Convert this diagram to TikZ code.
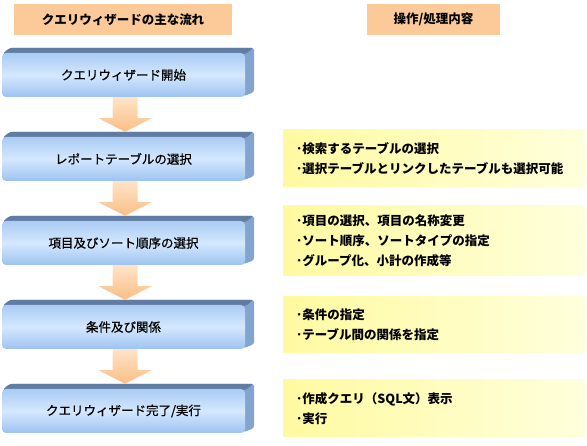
\documentclass[tikz,border=0pt]{standalone}
\usepackage{fontspec}
\newfontfamily\jpfont{Noto Sans CJK JP}
\newfontfamily\jpmed[FakeBold=0.8]{Noto Sans CJK JP}
\usetikzlibrary{positioning,calc,backgrounds}
\definecolor{hdrO}{RGB}{252,202,152}
\definecolor{faceT}{RGB}{170,203,242}
\definecolor{faceM}{RGB}{212,232,255}
\definecolor{faceB}{RGB}{158,195,240}
\definecolor{bevT}{RGB}{96,124,162}
\definecolor{bevS}{RGB}{132,164,208}
\definecolor{arrT}{RGB}{255,228,200}
\definecolor{arrB}{RGB}{250,190,132}
\definecolor{noteL}{RGB}{255,250,160}
\definecolor{noteR}{RGB}{255,255,220}
\begin{document}
\begin{tikzpicture}[
  x=1pt, y=-1pt,
  hdr/.style={fill=hdrO, minimum height=31pt, inner sep=0pt, font=\jpfont\bfseries\fontsize{12.5}{14}\selectfont},
  stepbox/.style={rounded corners=4pt, top color=faceT, bottom color=faceB, middle color=faceM, minimum width=243pt, minimum height=44pt, inner sep=0pt, font=\jpmed\fontsize{12.5}{14}\selectfont},
  note/.style={anchor=west, left color=noteL, right color=noteR, text width=276pt, inner xsep=13pt, inner ysep=0pt, align=left, font=\jpfont\bfseries\fontsize{12.5}{20}\selectfont},
  bevel/.style={fill=bevS, rounded corners=3pt},
  bevtop/.style={fill=bevT, rounded corners=2pt},
  flow/.style={top color=arrT, bottom color=arrB}
]
\useasboundingbox (0,0) rectangle (587,446);
% headers
\node[hdr, minimum width=218pt] (hflow) at (123,19.5) {クエリウィザードの主な流れ};
\node[hdr, minimum width=133pt] (hop) at (433.5,19.5) {操作/処理内容};
% steps
\node[stepbox] (s1) at (123.5,75) {クエリウィザード開始};
\node[stepbox] (s2) at (123.5,159) {レポートテーブルの選択};
\node[stepbox] (s3) at (123.5,243) {項目及びソート順序の選択};
\node[stepbox] (s4) at (123.5,327) {条件及び関係};
\node[stepbox] (s5) at (123.5,411) {クエリウィザード完了/実行};
% notes
\node[note, minimum height=57pt] (n2) at (283,158.5) {･検索するテーブルの選択\\･選択テーブルとリンクしたテーブルも選択可能};
\node[note, minimum height=70pt] (n3) at (283,240.5) {･項目の選択、項目の名称変更\\･ソート順序、ソートタイプの指定\\･グループ化、小計の作成等};
\node[note, minimum height=56pt] (n4) at (283,325) {･条件の指定\\･テーブル間の関係を指定};
\node[note, minimum height=57pt] (n5) at (283,408.5) {･作成クエリ（SQL文）表示\\･実行};
% bevels
\begin{scope}[on background layer]
\foreach \s in {s1,s2,s3,s4,s5}{
  \fill[bevel] ($(\s.north west)+(1,1)$) -- ($(\s.north west)+(8,-5)$) -- ($(\s.north east)+(9,-5)$)
    -- ($(\s.south east)+(9,-5)$) -- ($(\s.south east)+(-2,-1)$) -- cycle;
  \fill[bevtop] ($(\s.north west)+(1,1)$) -- ($(\s.north west)+(8,-5)$) -- ($(\s.north east)+(8,-5)$)
    -- ($(\s.north east)+(1,1)$) -- cycle;
}
\end{scope}
% arrows
\foreach \a/\b in {s1/s2,s2/s3,s3/s4,s4/s5}{
  \shade[flow] ($(\a.south)+(-11,0)$) -- ($(\a.south)+(14,0)$) -- ($(\a.south)+(14,21)$) -- ($(\a.south)+(28,21)$)
    -- ($(\b.north)+(1.5,-5)$) -- ($(\a.south)+(-25,21)$) -- ($(\a.south)+(-11,21)$) -- cycle;
}
\end{tikzpicture}
\end{document}
